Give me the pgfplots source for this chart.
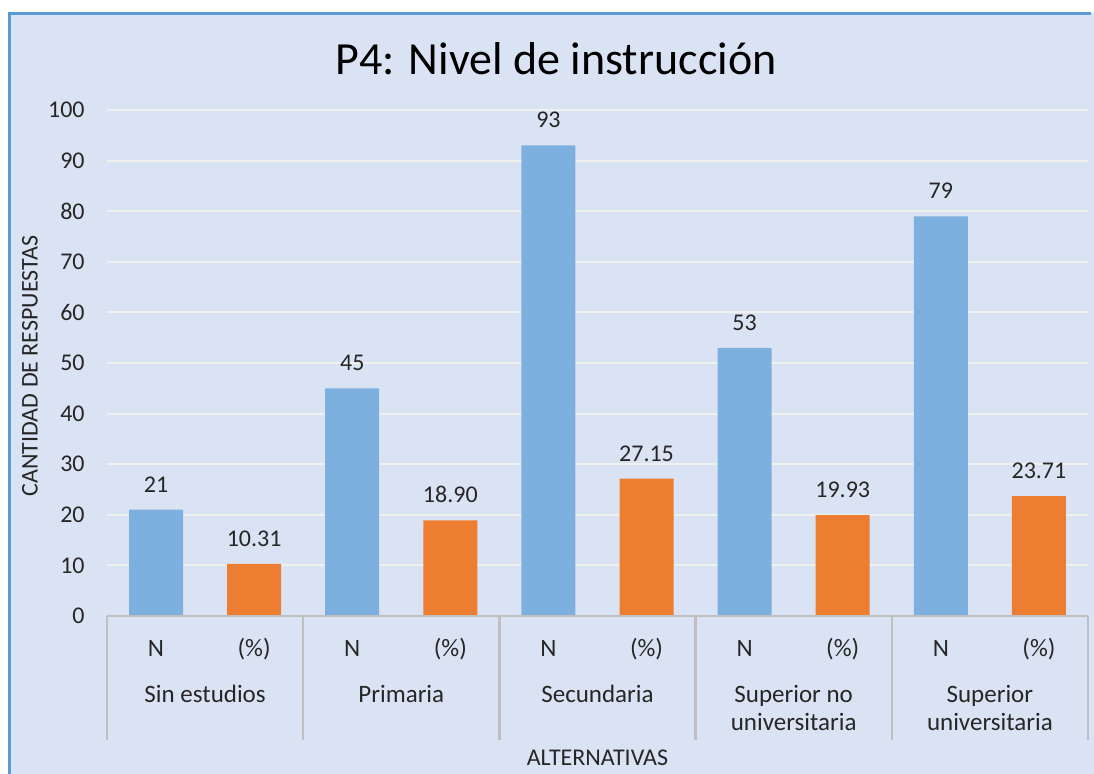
\documentclass[border=0pt]{standalone}
\usepackage{pgfplots}
\pgfplotsset{compat=1.18}
\usepackage{fontspec}
\setmainfont{Carlito}
\pgfkeys{/pgf/number format/assume math mode=true}
\definecolor{fondo}{HTML}{DAE3F3}
\definecolor{marco}{HTML}{5B9BD5}
\definecolor{azul}{HTML}{7EB0DF}
\definecolor{naranja}{HTML}{ED7D31}
\definecolor{gris}{HTML}{BFBFBF}
\definecolor{rejilla}{HTML}{F0F0F0}
\definecolor{texto}{HTML}{262626}
\begin{document}
\begin{tikzpicture}[font=\fontsize{12}{14.4}\selectfont, text=texto]
% 1 px = 0.5pt, origen en la esquina inferior izquierda del área de trazado
\useasboundingbox (-53.5pt,-78.5pt) rectangle (493.5pt,308pt);
\fill[white] (-60pt,-85pt) rectangle (500pt,315pt);
\fill[fondo] (-48.75pt,-85pt) rectangle (500pt,301.25pt);
\draw[marco, line width=1.5pt] (-48.75pt,-85pt) -- (-48.75pt,301.25pt) -- (492pt,301.25pt);
\begin{axis}[
    at={(0pt,0pt)}, anchor=south west,
    scale only axis,
    width=490.5pt, height=253pt,
    xmin=-0.5, xmax=9.5,
    ymin=0, ymax=100,
    ytick={0,10,...,100},
    xtick={0,...,9},
    xticklabels={N,(\%),N,(\%),N,(\%),N,(\%),N,(\%)},
    xticklabel style={anchor=base, inner sep=0pt, yshift=-20pt, font=\fontsize{12.5}{15}\selectfont},
    yticklabel style={anchor=east, inner sep=0pt, xshift=-11pt},
    major tick length=0pt,
    axis line style={draw=none},
    ymajorgrids,
    grid style={rejilla, line width=1pt},
    ybar,
    bar width=27pt,
    clip=false,
    every node near coord/.append style={inner sep=0pt, yshift=8.5pt, text=texto},
]
    % N
    \addplot[fill=azul, draw=none, bar shift=0pt, nodes near coords] coordinates {
        (0,21) (2,45) (4,93) (6,53) (8,79)
    };
    % (%)
    \addplot[fill=naranja, draw=none, bar shift=0pt,
        nodes near coords={\pgfmathprintnumber[fixed,fixed zerofill,precision=2]{\pgfplotspointmeta}}] coordinates {
        (1,10.31) (3,18.90) (5,27.15) (7,19.93) (9,23.71)
    };
    % eje de categorías
    \draw[gris, line width=1pt] (axis cs:-0.5,0) -- (axis cs:9.5,0);
    \draw[gris, line width=1.2pt] (axis cs:-0.5,0) -- ([yshift=-62pt]axis cs:-0.5,0);
    \draw[gris, line width=1.2pt] (axis cs:1.5,0) -- ([yshift=-62pt]axis cs:1.5,0);
    \draw[gris, line width=1.2pt] (axis cs:3.5,0) -- ([yshift=-62pt]axis cs:3.5,0);
    \draw[gris, line width=1.2pt] (axis cs:5.5,0) -- ([yshift=-62pt]axis cs:5.5,0);
    \draw[gris, line width=1.2pt] (axis cs:7.5,0) -- ([yshift=-62pt]axis cs:7.5,0);
    \draw[gris, line width=1.2pt] (axis cs:9.5,0) -- ([yshift=-62pt]axis cs:9.5,0);
    \begin{scope}[every node/.style={anchor=base, font=\fontsize{12.5}{15}\selectfont, text=texto}]
    \node[yshift=-43pt] at (axis cs:0.5,0) {Sin estudios};
    \node[yshift=-43pt] at (axis cs:2.5,0) {Primaria};
    \node[yshift=-43pt] at (axis cs:4.5,0) {Secundaria};
    \node[yshift=-43pt] at (axis cs:6.5,0) {Superior no};
    \node[yshift=-57pt] at (axis cs:6.5,0) {universitaria};
    \node[yshift=-43pt] at (axis cs:8.5,0) {Superior};
    \node[yshift=-57pt] at (axis cs:8.5,0) {universitaria};
    \end{scope}
    \node[anchor=base, yshift=-74.5pt, font=\fontsize{12}{14.4}\selectfont] at (rel axis cs:0.5,0) {ALTERNATIVAS};
\end{axis}
\node[anchor=base, font=\fontsize{23}{27}\selectfont, text=black] at (224.5pt,270.5pt) {P4: Nivel de instrucción};
\node[rotate=90, font=\fontsize{12}{14.4}\selectfont] at (-38.5pt,125pt) {CANTIDAD DE RESPUESTAS};
\end{tikzpicture}
\end{document}
